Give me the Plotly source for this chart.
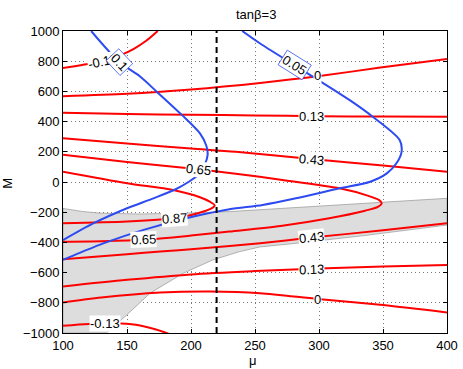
import plotly.graph_objects as go

# ---------------- data ----------------
mu_ticks = [100, 150, 200, 250, 300, 350, 400]
M_ticks = [-1000, -800, -600, -400, -200, 0, 200, 400, 600, 800, 1000]
mu_cut = 220
title_text = "tanβ=3"

# shaded region boundary
gray_mu = [100, 100, 134, 150, 168, 194, 217, 238, 254, 283, 335, 400,
           400, 350, 300, 230, 200, 160, 130, 115, 100]
gray_M = [-175, -1000, -1000, -879, -736, -604, -516, -461, -430, -405, -355, -285,
          -108, -134, -160, -196, -205, -212, -207, -195, -175]

# red contours
red_m013_top_mu = [100, 115, 130, 145, 155, 165, 174]
red_m013_top_M = [755, 775, 800, 840, 880, 935, 1000]
red_0_top_mu = [100, 150, 200, 254, 299, 348, 400]
red_0_top_M = [568, 584, 613, 656, 700, 758, 815]
red_013_top_mu = [100, 150, 200, 250, 300, 350, 400]
red_013_top_M = [458, 450, 445, 441, 436, 433, 432]
red_043_top_mu = [100, 150, 200, 235, 294, 350, 400]
red_043_top_M = [290, 255, 222, 200, 152, 110, 68]
red_065_mu = [100, 150, 206, 235, 270, 316, 338, 347, 349, 346, 336, 308, 270, 230, 200, 163, 130, 100]
red_065_M = [180, 132, 84, 55, 15, -42, -90, -120, -141, -165, -190, -240, -291, -328, -355, -383, -392, -395]
red_087_mu = [100, 150, 186, 207, 215, 218.5, 216, 211, 197, 186, 150, 100]
red_087_M = [68, -8, -53, -101, -132, -155, -175, -192, -225, -240, -262, -273]
red_043_bot_mu = [100, 150, 176, 200, 254, 294, 350, 400]
red_043_bot_M = [-511, -478, -460, -445, -405, -368, -320, -273]
red_013_bot_mu = [100, 150, 200, 250, 300, 350, 400]
red_013_bot_M = [-692, -648, -612, -590, -573, -560, -549]
red_0_bot_mu = [100, 130, 176, 215, 254, 299, 350, 400]
red_0_bot_M = [-798, -765, -732, -725, -736, -775, -815, -864]
red_m013_bot_mu = [100, 120, 140, 157, 172, 184]
red_m013_bot_M = [-952, -940, -935, -945, -975, -1010]

# blue contours
blue_1_mu = [122, 144, 160, 173, 193, 207, 212, 213, 211, 207, 198, 188, 170, 150, 124, 100]
blue_1_M = [1000, 795, 700, 600, 443, 322, 240, 180, 120, 57, 0, -48, -110, -174, -273, -385]
blue_2_mu = [240, 254, 281, 324, 342, 363, 364.5, 360.5, 353, 340, 316, 282, 256, 230, 202, 163, 132, 106, 100]
blue_2_M = [1000, 917, 773, 542, 432, 278, 200, 124, 57, 2, -42, -108, -152, -180, -229, -317, -405, -494, -515]

# contour labels: text, mu, M, angle
red_label_text = ["-0.13", "0", "0.13", "0.43", "0.65", "0.87", "0.65", "0.43", "0.13", "0", "-0.13"]
red_label_mu = [131, 299, 294, 294, 206, 187, 163, 294, 294, 299, 133]
red_label_M = [795, 707, 434, 152, 84, -240, -383, -368, -577, -775, -934]
red_label_angle = [-12, 0, 0, 5, 6, -4, -2, -6, -2, 0, 0]

blue_label_text = ["0.1", "0.05"]
blue_label_mu = [144, 281]
blue_label_M = [795, 773]
blue_label_angle = [47, 32]

# ---------------- figure ----------------
RED = "rgb(255,0,0)"
BLUE = "rgb(45,75,240)"
FONT = "Liberation Sans, Arial, sans-serif"

fig = go.Figure()

fig.add_trace(go.Scatter(x=gray_mu, y=gray_M, mode="lines", fill="toself",
                         fillcolor="rgb(221,221,221)",
                         line=dict(color="rgb(150,150,150)", width=0.7),
                         hoverinfo="skip", showlegend=False))

red_curves = [
    (red_m013_top_mu, red_m013_top_M), (red_0_top_mu, red_0_top_M),
    (red_013_top_mu, red_013_top_M), (red_043_top_mu, red_043_top_M),
    (red_065_mu, red_065_M), (red_087_mu, red_087_M),
    (red_043_bot_mu, red_043_bot_M), (red_013_bot_mu, red_013_bot_M),
    (red_0_bot_mu, red_0_bot_M), (red_m013_bot_mu, red_m013_bot_M),
]
for xs, ys in red_curves:
    fig.add_trace(go.Scatter(x=xs, y=ys, mode="lines",
                             line=dict(color=RED, width=2, shape="spline", smoothing=0.8),
                             hoverinfo="skip", showlegend=False))

for xs, ys in [(blue_1_mu, blue_1_M), (blue_2_mu, blue_2_M)]:
    fig.add_trace(go.Scatter(x=xs, y=ys, mode="lines",
                             line=dict(color=BLUE, width=2, shape="spline", smoothing=0.8),
                             hoverinfo="skip", showlegend=False))

fig.add_trace(go.Scatter(x=[mu_cut, mu_cut], y=[-1000, 1000], mode="lines",
                         line=dict(color="black", width=2, dash="6px,4px"),
                         hoverinfo="skip", showlegend=False))

annotations = []
for t, x, y, a in zip(red_label_text, red_label_mu, red_label_M, red_label_angle):
    annotations.append(dict(x=x, y=y, xref="x", yref="y", text=t, showarrow=False,
                            textangle=a, bgcolor="white", borderpad=0,
                            font=dict(family=FONT, size=13, color="black")))
for t, x, y, a in zip(blue_label_text, blue_label_mu, blue_label_M, blue_label_angle):
    annotations.append(dict(x=x, y=y, xref="x", yref="y", text=t, showarrow=False,
                            textangle=a, bgcolor="white", bordercolor=BLUE,
                            borderwidth=0.7, borderpad=1,
                            font=dict(family=FONT, size=13, color="black")))

annotations.append(dict(x=0.503, y=1.055, xref="paper", yref="paper", text=title_text,
                        xanchor="center", yanchor="middle", showarrow=False,
                        font=dict(family=FONT, size=13, color="black")))
annotations.append(dict(x=0.495, y=-0.09, xref="paper", yref="paper", text="μ",
                        xanchor="center", yanchor="middle", showarrow=False,
                        font=dict(family=FONT, size=13, color="black")))
annotations.append(dict(x=-0.1435, y=0.497, xref="paper", yref="paper", text="M",
                        xanchor="center", yanchor="middle", textangle=-90, showarrow=False,
                        font=dict(family=FONT, size=13, color="black")))

axis_common = dict(showline=True, linecolor="black", linewidth=1, mirror="ticks",
                   ticks="inside", ticklen=4, tickcolor="black", automargin=False,
                   showgrid=True, gridcolor="rgb(120,120,120)", griddash="1px,3px", gridwidth=1,
                   zeroline=False, tickfont=dict(family=FONT, size=13, color="black"))

fig.update_layout(
    width=463, height=369,
    margin=dict(l=63, r=16, t=31, b=36),
    paper_bgcolor="white", plot_bgcolor="white",
    xaxis=dict(range=[100, 400], tickvals=mu_ticks, **axis_common),
    yaxis=dict(range=[-1000, 1000], tickvals=M_ticks,
               ticktext=[str(v).replace("-", "−") for v in M_ticks], **axis_common),
    annotations=annotations,
    showlegend=False,
)

fig.write_html("out.html", config={"displayModeBar": False},
               post_script="document.body.style.margin='0';")
